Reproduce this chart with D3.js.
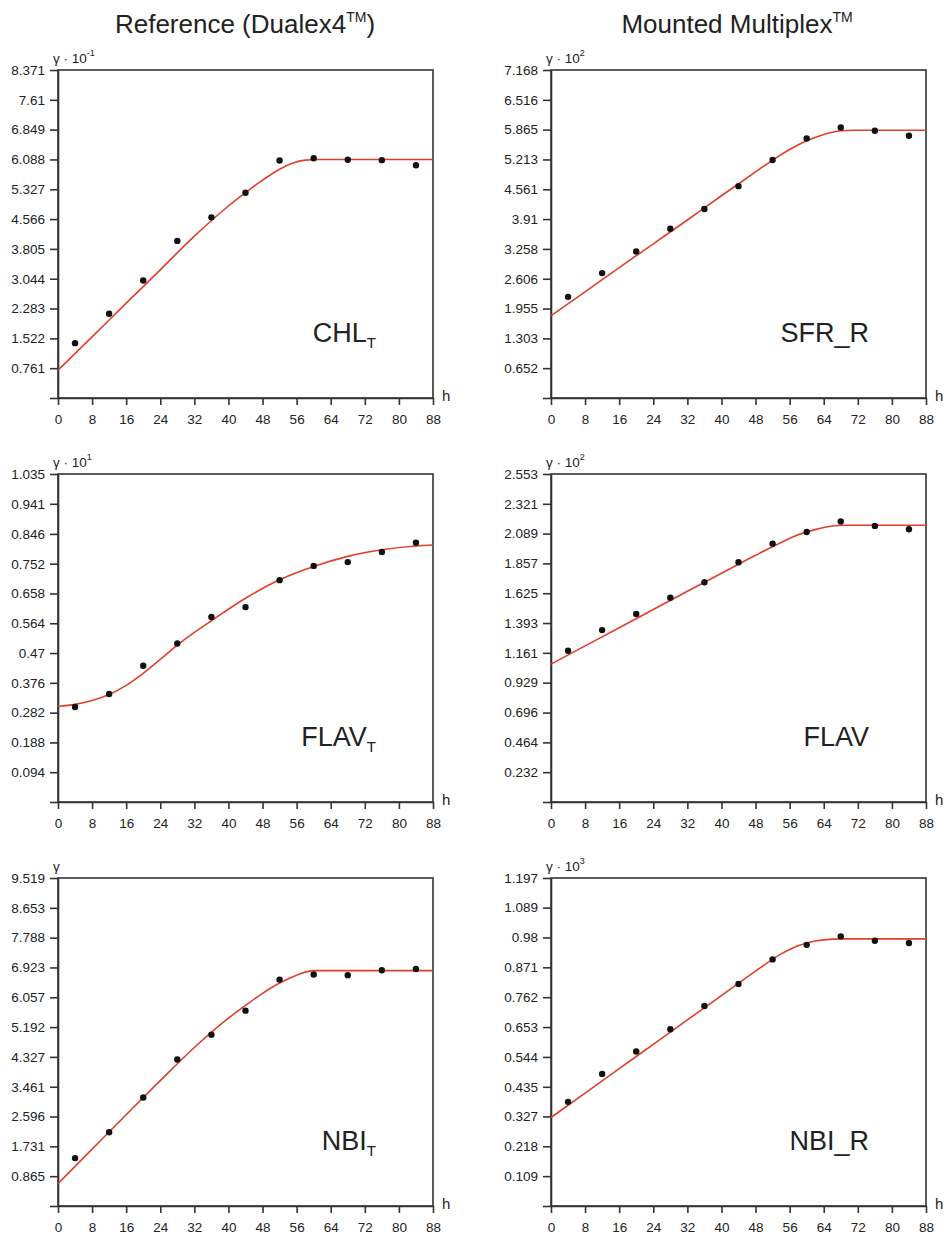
<!DOCTYPE html>
<html>
<head>
<meta charset="utf-8">
<script src="https://cdn.jsdelivr.net/npm/d3@7"></script>
<style>
  body { margin: 0; background: #fff; }
  svg { display: block; font-family: "Liberation Sans", Arial, sans-serif; }
</style>
</head>
<body>
<svg id="main"></svg>
<script>
const width = 944
const height = 1237

// sampling hours
const hours = [4, 12, 20, 28, 36, 44, 52, 60, 68, 76, 84]
const xTicks = [0, 8, 16, 24, 32, 40, 48, 56, 64, 72, 80, 88]

// measured points
const chlT = [1.40, 2.15, 3.00, 4.01, 4.61, 5.24, 6.06, 6.12, 6.08, 6.07, 5.94]
const sfrR = [2.21, 2.73, 3.20, 3.70, 4.13, 4.63, 5.20, 5.67, 5.91, 5.84, 5.73]
const flavT = [0.300, 0.341, 0.430, 0.500, 0.584, 0.615, 0.700, 0.745, 0.757, 0.789, 0.818]
const flav = [1.177, 1.338, 1.463, 1.590, 1.710, 1.866, 2.011, 2.102, 2.183, 2.149, 2.123]
const nbiT = [1.39, 2.14, 3.15, 4.25, 4.97, 5.67, 6.57, 6.72, 6.70, 6.84, 6.88]
const nbiR = [0.380, 0.482, 0.564, 0.645, 0.730, 0.810, 0.900, 0.953, 0.984, 0.968, 0.960]

// fitted curves, read as knots [h, value]
const chlTFit = [[0,0.71],[8,1.56],[16,2.42],[24,3.27],[32,4.13],[40,4.9],[44,5.24],[48,5.56],[52,5.84],[55,5.99],[58,6.07],[61,6.088],[88,6.088]]
const sfrRFit = [[0,1.80],[8,2.32],[16,2.85],[24,3.37],[32,3.89],[40,4.42],[48,4.94],[52,5.2],[56,5.43],[60,5.62],[64,5.76],[68,5.84],[71,5.85],[88,5.85]]
const flavTFit = [[0,0.302],[4,0.308],[8,0.320],[12,0.339],[16,0.368],[20,0.406],[24,0.450],[28,0.495],[32,0.535],[36,0.572],[44,0.643],[52,0.701],[60,0.743],[68,0.775],[76,0.796],[84,0.808],[88,0.811]]
const flavFit = [[0,1.073],[8,1.215],[16,1.356],[24,1.498],[32,1.64],[40,1.78],[48,1.92],[54,2.02],[58,2.08],[62,2.12],[66,2.148],[69,2.154],[88,2.154]]
const nbiTFit = [[0,0.65],[8,1.65],[16,2.65],[24,3.64],[32,4.6],[40,5.45],[44,5.82],[48,6.17],[52,6.47],[56,6.7],[60,6.83],[88,6.83]]
const nbiRFit = [[0,0.323],[8,0.412],[16,0.501],[24,0.59],[32,0.679],[40,0.768],[48,0.857],[54,0.92],[58,0.95],[62,0.967],[66,0.974],[69,0.975],[88,0.975]]

// y tick labels (top to bottom)
const chlTTicks = ['8.371','7.61','6.849','6.088','5.327','4.566','3.805','3.044','2.283','1.522','0.761']
const sfrRTicks = ['7.168','6.516','5.865','5.213','4.561','3.91','3.258','2.606','1.955','1.303','0.652']
const flavTTicks = ['1.035','0.941','0.846','0.752','0.658','0.564','0.47','0.376','0.282','0.188','0.094']
const flavTicks = ['2.553','2.321','2.089','1.857','1.625','1.393','1.161','0.929','0.696','0.464','0.232']
const nbiTTicks = ['9.519','8.653','7.788','6.923','6.057','5.192','4.327','3.461','2.596','1.731','0.865']
const nbiRTicks = ['1.197','1.089','0.98','0.871','0.762','0.653','0.544','0.435','0.327','0.218','0.109']

const columnTitles = ['Reference (Dualex4', 'Mounted Multiplex']

const panels = [
  {col:0, row:0, name:'CHL', sub:'T', exp:'-1', values:chlT, fit:chlTFit, ticks:chlTTicks},
  {col:1, row:0, name:'SFR_R', sub:'', exp:'2', values:sfrR, fit:sfrRFit, ticks:sfrRTicks},
  {col:0, row:1, name:'FLAV', sub:'T', exp:'1', values:flavT, fit:flavTFit, ticks:flavTTicks},
  {col:1, row:1, name:'FLAV', sub:'', exp:'2', values:flav, fit:flavFit, ticks:flavTicks},
  {col:0, row:2, name:'NBI', sub:'T', exp:null, values:nbiT, fit:nbiTFit, ticks:nbiTTicks},
  {col:1, row:2, name:'NBI_R', sub:'', exp:'3', values:nbiR, fit:nbiRFit, ticks:nbiRTicks}
]

const colLeft = [58, 551]
const plotW = 375
const rowTop = [70, 474, 878]
const plotH = 328
const ink = '#333'

const svg = d3.select('#main').attr('width', width).attr('height', height)

// column titles
const titleX = [245, 737]
columnTitles.forEach((t, i) => {
  const title = svg.append('text')
    .attr('x', titleX[i])
    .attr('y', 33)
    .attr('text-anchor', 'middle')
    .attr('font-size', 26)
    .attr('fill', '#222')
  title.append('tspan').text(t)
  title.append('tspan').attr('font-size', 14).attr('dy', -11).text('TM')
  if (i === 0) title.append('tspan').attr('dy', 11).text(')')
})

panels.forEach(p => {
  const x0 = colLeft[p.col]
  const y0 = rowTop[p.row]
  const top = +p.ticks[0]

  const x = d3.scaleLinear().domain([0, 88]).range([0, plotW])
  const y = d3.scaleLinear().domain([0, top]).range([plotH, 0])

  const g = svg.append('g').attr('transform', `translate(${x0},${y0})`)

  // frame
  g.append('rect')
    .attr('width', plotW).attr('height', plotH)
    .attr('fill', 'none').attr('stroke', ink).attr('stroke-width', 1.6)

  // y axis
  const yVals = [0].concat(p.ticks.map(Number))
  const yAxis = g.append('g').call(
    d3.axisLeft(y).tickValues(yVals).tickSize(8).tickSizeOuter(0)
      .tickFormat(d => d === 0 ? '' : p.ticks[yVals.indexOf(d) - 1])
  )
  yAxis.select('.domain').attr('stroke', ink).attr('stroke-width', 1.6)
  yAxis.selectAll('line').attr('stroke', ink).attr('stroke-width', 1.6)
  yAxis.selectAll('text').attr('font-size', 13.5).attr('fill', '#222').attr('x', -13)

  // x axis
  const xAxis = g.append('g').attr('transform', `translate(0,${plotH})`).call(
    d3.axisBottom(x).tickValues(xTicks).tickSize(7).tickSizeOuter(0)
  )
  xAxis.select('.domain').attr('stroke', ink).attr('stroke-width', 1.6)
  xAxis.selectAll('line').attr('stroke', ink).attr('stroke-width', 1.6)
  xAxis.selectAll('text').attr('font-size', 13.5).attr('fill', '#222').attr('y', 16)

  g.append('text').attr('x', plotW + 9).attr('y', plotH + 3)
    .attr('font-size', 15).attr('fill', '#222').text('h')

  // unit label
  const unit = g.append('text').attr('x', -5).attr('y', -7)
    .attr('font-size', 13.5).attr('fill', '#222')
  if (p.exp === null) {
    unit.text('γ')
  } else {
    unit.append('tspan').text('γ · 10')
    unit.append('tspan').attr('font-size', 9).attr('dy', -7).text(p.exp)
  }

  // fitted curve
  const line = d3.line().x(d => x(d[0])).y(d => y(d[1])).curve(d3.curveMonotoneX)
  g.append('path').datum(p.fit)
    .attr('d', line)
    .attr('fill', 'none').attr('stroke', '#e0402a').attr('stroke-width', 1.6)

  // points
  g.selectAll('circle.pt').data(p.values).join('circle')
    .attr('class', 'pt')
    .attr('cx', (d, i) => x(hours[i]))
    .attr('cy', d => y(d))
    .attr('r', 3.2)
    .attr('fill', '#111')

  // series label
  const label = g.append('text')
    .attr('x', plotW - 57).attr('y', 272)
    .attr('text-anchor', 'end')
    .attr('font-size', 27).attr('fill', '#222')
  label.append('tspan').text(p.name)
  if (p.sub) label.append('tspan').attr('font-size', 15).attr('dy', 6).text(p.sub)
})
</script>
</body>
</html>
